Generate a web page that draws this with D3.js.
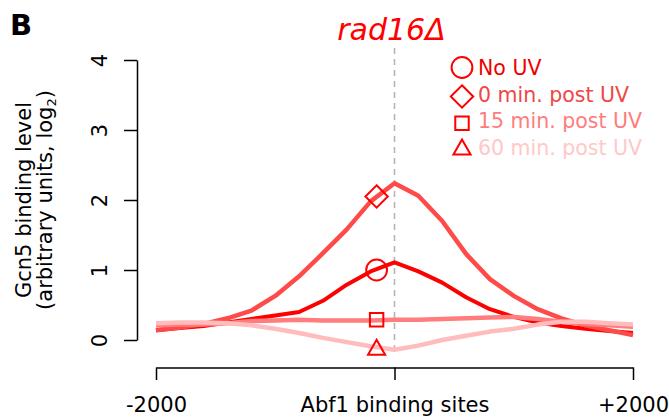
<!DOCTYPE html>
<html>
<head>
<meta charset="utf-8">
<script src="https://cdn.jsdelivr.net/npm/d3@7"></script>
<style>
  html, body { margin: 0; padding: 0; background: #fff; }
  svg { display: block; }
  text { font-family: "DejaVu Sans", sans-serif; }
</style>
</head>
<body>
<svg id="chart" width="669" height="417"></svg>
<script>
// ---- data ----
const positions = [-2000,-1800,-1600,-1400,-1200,-1000,-800,-600,-400,-200,0,200,400,600,800,1000,1200,1400,1600,1800,2000];
const noUV   = [0.14,0.17,0.20,0.25,0.30,0.35,0.40,0.56,0.79,0.98,1.11,0.98,0.82,0.61,0.44,0.33,0.25,0.20,0.16,0.13,0.10];
const min0   = [0.14,0.18,0.23,0.31,0.42,0.63,0.91,1.24,1.58,1.98,2.24,2.06,1.70,1.23,0.87,0.63,0.44,0.31,0.21,0.14,0.07];
const min15  = [0.21,0.22,0.22,0.24,0.27,0.28,0.29,0.28,0.28,0.28,0.29,0.29,0.30,0.31,0.32,0.33,0.30,0.26,0.23,0.21,0.19];
const min60  = [0.24,0.25,0.25,0.24,0.21,0.16,0.10,0.03,-0.03,-0.09,-0.14,-0.08,0.00,0.06,0.12,0.16,0.22,0.26,0.26,0.24,0.22];
const seriesNames = ["No UV","0 min. post UV","15 min. post UV","60 min. post UV"];
const markerPos = -150;
const markerValues = [1.0, 2.05, 0.29, -0.11];
const yTicks = [0,1,2,3,4];
const xTicks = [-2000,0,2000];
const xTickLabels = ["-2000","Abf1 binding sites","+2000"];
const title = "rad16Δ";
const panelLabel = "B";

// ---- styles ----
const lineColors = ["#ff0000","#ff4a4a","#ff7d7d","#ffbcbc"];
const textColors = ["#ee0000","#f04646","#ff7c7c","#ffc8c8"];
const lineWidths = [4,4.5,4.5,4.5];
const symbols = [d3.symbolCircle, d3.symbolDiamond2, d3.symbolSquare2, d3.symbolTriangle2];
const symbolSizes = [340, 320, 230, 210];

const svg = d3.select("#chart");
const x = d3.scaleLinear().domain([-2000,2000]).range([156,633]);
const y = d3.scaleLinear().domain([0,4]).range([340,60]);

// dashed centre line
svg.append("line")
  .attr("x1", x(0)).attr("x2", x(0))
  .attr("y1", y(4.17)).attr("y2", y(-0.17))
  .attr("stroke", "#b5b5b5").attr("stroke-width", 1.6)
  .attr("stroke-dasharray", "6,5");

// y axis
const yAxis = svg.append("g").attr("transform", "translate(137,0)")
  .call(d3.axisLeft(y).tickValues(yTicks).tickSize(13).tickSizeOuter(0).tickFormat(d3.format("d")));
yAxis.select(".domain").attr("stroke", "#000").attr("stroke-width", 1.5);
yAxis.selectAll(".tick line").attr("stroke", "#000").attr("stroke-width", 1.5);
yAxis.selectAll(".tick text")
  .attr("x", null).attr("dy", null)
  .attr("font-size", 21).attr("font-family", "DejaVu Sans").attr("fill", "#000")
  .attr("text-anchor", "middle")
  .attr("transform", "translate(-30,0) rotate(-90)");

// x axis
const xAxis = svg.append("g").attr("transform", "translate(0,367.5)")
  .call(d3.axisBottom(x).tickValues(xTicks).tickSize(12.5).tickSizeOuter(0)
        .tickFormat((d,i) => xTickLabels[i]));
xAxis.select(".domain").attr("stroke", "#000").attr("stroke-width", 1.5);
xAxis.selectAll(".tick line").attr("stroke", "#000").attr("stroke-width", 1.5);
xAxis.selectAll(".tick text")
  .attr("y", 44.5).attr("dy", null)
  .attr("font-size", 21).attr("font-family", "DejaVu Sans").attr("fill", "#000");

// y-axis title
const yt = svg.append("text")
  .attr("transform", "translate(31,200) rotate(-90)")
  .attr("text-anchor", "middle").attr("font-size", 21).attr("fill", "#000");
yt.append("tspan").attr("x", 0).attr("y", 0).text("Gcn5 binding level");
const yt2 = svg.append("text")
  .attr("transform", "translate(52,200) rotate(-90)")
  .attr("text-anchor", "middle").attr("font-size", 21).attr("fill", "#000");
yt2.append("tspan").text("(arbitrary units, log");
yt2.append("tspan").attr("font-size", 13).attr("dy", 4).text("2");
yt2.append("tspan").attr("dy", -4).text(")");

// lines
const allSeries = [noUV, min0, min15, min60];
const line = d3.line().x((d,i) => x(positions[i])).y(d => y(d));
allSeries.forEach((s, k) => {
  svg.append("path").datum(s)
    .attr("d", line)
    .attr("fill", "none")
    .attr("stroke", lineColors[k])
    .attr("stroke-width", lineWidths[k])
    .attr("stroke-linejoin", "round")
    .attr("stroke-linecap", "butt");
});

// markers on lines
markerValues.forEach((v, k) => {
  svg.append("path")
    .attr("d", d3.symbol().type(symbols[k]).size(symbolSizes[k])())
    .attr("transform", `translate(${x(markerPos)},${y(v) + (k===3 ? 2 : 0)})`)
    .attr("fill", "none").attr("stroke", "#ff0000").attr("stroke-width", 2);
});

// legend
const legY = [67.5, 96.5, 123.3, 149.5];
const legTextY = [75, 101.7, 128.3, 155];
seriesNames.forEach((name, k) => {
  svg.append("path")
    .attr("d", d3.symbol().type(symbols[k]).size(symbolSizes[k])())
    .attr("transform", `translate(462,${legY[k]})`)
    .attr("fill", "none").attr("stroke", "#ff0000").attr("stroke-width", 2);
  svg.append("text")
    .attr("x", 478).attr("y", legTextY[k])
    .attr("font-size", 20.5).attr("fill", textColors[k])
    .text(name);
});

// title
svg.append("text")
  .attr("x", 391.5).attr("y", 40)
  .attr("text-anchor", "middle")
  .attr("font-family", "Liberation Sans, Arial, sans-serif")
  .attr("font-style", "italic")
  .attr("font-size", 30).attr("fill", "#ff0000")
  .text(title);

// panel label
svg.append("text")
  .attr("x", 10).attr("y", 35)
  .attr("font-family", "Liberation Sans, Arial, sans-serif")
  .attr("font-weight", "bold")
  .attr("font-size", 29).attr("fill", "#000")
  .text(panelLabel);
</script>
</body>
</html>
